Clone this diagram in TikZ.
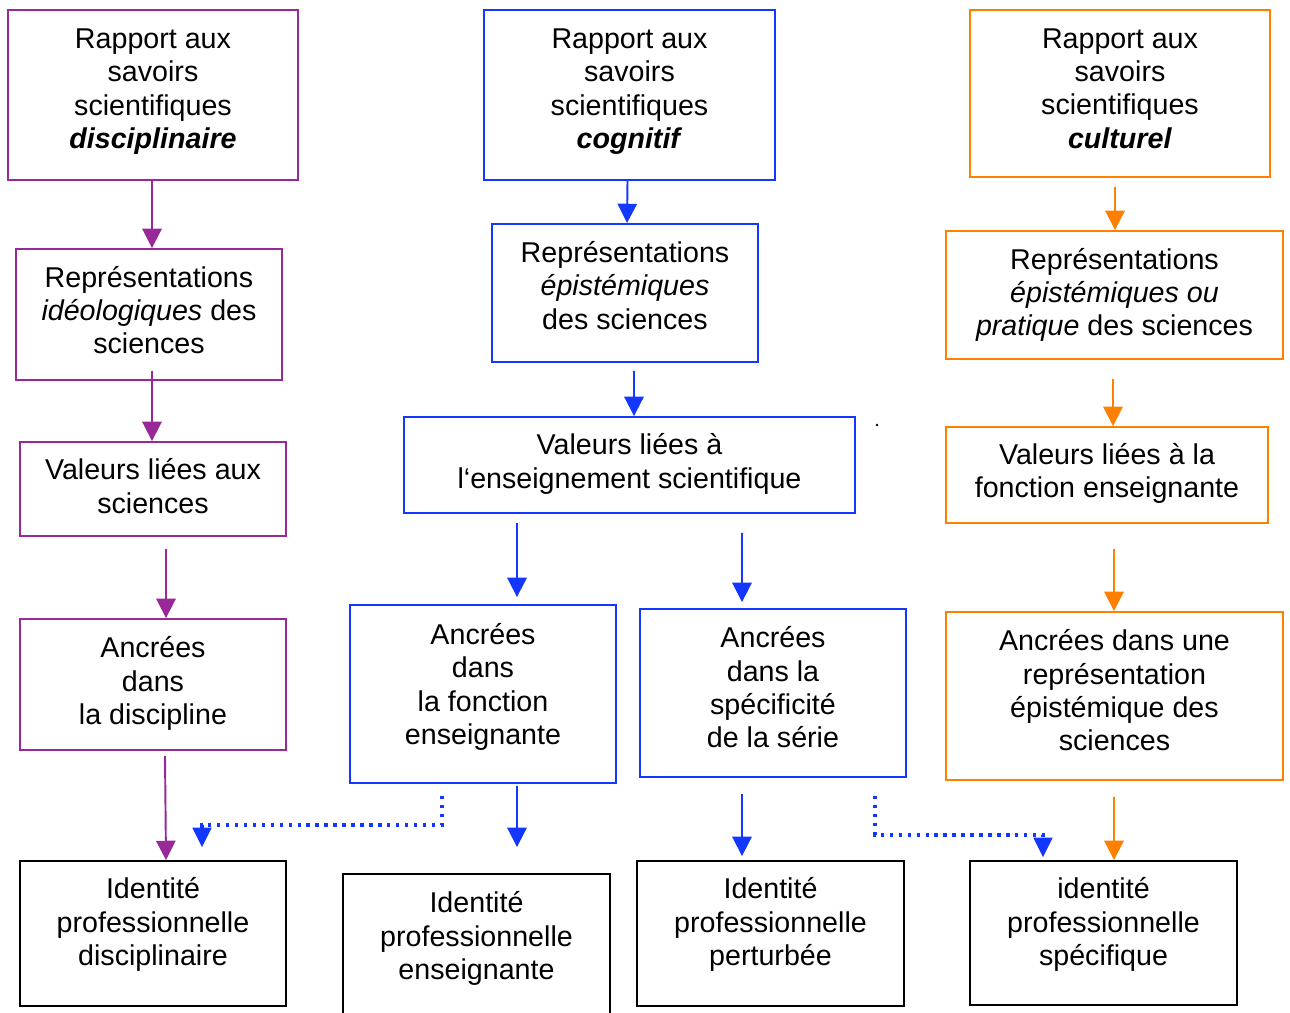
\documentclass[tikz,border=0pt]{standalone}
\usepackage{fontspec}
\setmainfont{Liberation Sans}
\usetikzlibrary{arrows.meta,calc}
\definecolor{cpurple}{RGB}{153,40,153}
\definecolor{cblue}{RGB}{20,55,255}
\definecolor{corange}{RGB}{255,128,0}
\tikzset{
  box/.style={draw, line width=1.1pt, inner sep=0pt},
  pbox/.style={box, draw=cpurple},
  bbox/.style={box, draw=cblue},
  obox/.style={box, draw=corange},
  kbox/.style={box, draw=black},
  txt/.style={align=center, inner sep=0pt, yshift=-0.07cm, font=\fontsize{16.3}{19}\selectfont},
  arr/.style={line width=1.1pt, -{Triangle[width=11pt,length=11pt]}},
  parr/.style={arr, draw=cpurple, fill=cpurple},
  barr/.style={arr, draw=cblue, fill=cblue},
  oarr/.style={arr, draw=corange, fill=corange},
  bdot/.style={draw=cblue, line width=1.9pt, dash pattern=on 1.9pt off 3.2pt,
    -{Triangle[width=11pt,length=11pt,fill=cblue,line width=0pt,sep=0pt]}},
}
\begin{document}
\begin{tikzpicture}[x=0.02cm,y=-0.02cm]
\useasboundingbox[fill=white] (0,0) rectangle (1290,1012);
% ---------- purple column ----------
\node[pbox, minimum width=5.8cm, minimum height=3.4cm] (b1) at (153,95) {};
\node[txt] (b1t) at (153,88) {Rapport aux\\savoirs\\scientifiques\\\textbf{\textit{disciplinaire}}};
\node[pbox, minimum width=5.32cm, minimum height=2.62cm] (b2) at (149,314.5) {};
\node[txt] (b2t) at (149,306.5) {Représentations\\\textit{idéologiques} des\\sciences};
\node[pbox, minimum width=5.32cm, minimum height=1.88cm] (b3) at (153,489) {};
\node[txt] (b3t) at (153,482.5) {Valeurs liées aux\\sciences};
\node[pbox, minimum width=5.32cm, minimum height=2.62cm] (b4) at (153,684.5) {};
\node[txt] (b4t) at (153,680) {Ancrées\\dans\\la discipline};
\node[kbox, minimum width=5.32cm, minimum height=2.9cm] (b5) at (153,933.5) {};
\node[txt] (b5t) at (153,921) {Identité\\professionnelle\\disciplinaire};
% ---------- blue column ----------
\node[bbox, minimum width=5.82cm, minimum height=3.4cm] (c1) at (629.5,95) {};
\node[txt] (c1t) at (629.5,88) {Rapport aux\\savoirs\\scientifiques\\\textbf{\textit{cognitif}}};
\node[bbox, minimum width=5.32cm, minimum height=2.76cm] (c2) at (625,293) {};
\node[txt] (c2t) at (625,282) {Représentations\\\textit{épistémiques}\\des sciences};
\node[bbox, minimum width=9.02cm, minimum height=1.92cm] (c3) at (629.5,465) {};
\node[txt] (c3t) at (629.5,460.5) {Valeurs liées à\\l‘enseignement scientifique};
\node[bbox, minimum width=5.32cm, minimum height=3.56cm] (c4) at (483,694) {};
\node[txt] (c4t) at (483,683.5) {Ancrées\\dans\\la fonction\\enseignante};
\node[bbox, minimum width=5.32cm, minimum height=3.36cm] (c5) at (773,693) {};
\node[txt] (c5t) at (773,684) {Ancrées\\dans la\\spécificité\\de la série};
\node[kbox, minimum width=5.34cm, minimum height=2.92cm] (c6) at (476.5,947) {};
\node[txt] (c6t) at (476.5,935) {Identité\\professionnelle\\enseignante};
\node[kbox, minimum width=5.34cm, minimum height=2.9cm] (c7) at (770.5,933.5) {};
\node[txt] (c7t) at (770.5,921) {Identité\\professionnelle\\perturbée};
% ---------- orange column ----------
\node[obox, minimum width=6cm, minimum height=3.34cm] (d1) at (1120,93.5) {};
\node[txt] (d1t) at (1120,85) {Rapport aux\\savoirs\\scientifiques\\\textbf{\textit{culturel}}};
\node[obox, minimum width=6.74cm, minimum height=2.56cm] (d2) at (1114.5,295) {};
\node[txt] (d2t) at (1114.5,291.5) {Représentations\\\textit{épistémiques ou}\\\textit{pratique} des sciences};
\node[obox, minimum width=6.44cm, minimum height=1.92cm] (d3) at (1107,475) {};
\node[txt] (d3t) at (1107,470) {Valeurs liées à la\\fonction enseignante};
\node[obox, minimum width=6.74cm, minimum height=3.36cm] (d4) at (1114.5,696) {};
\node[txt] (d4t) at (1114.5,687) {Ancrées dans une\\représentation\\épistémique des\\sciences};
\node[kbox, minimum width=5.34cm, minimum height=2.88cm] (d5) at (1103.5,933) {};
\node[txt] (d5t) at (1103.5,921) {identité\\professionnelle\\spécifique};
% ---------- purple arrows ----------
\draw[parr] ($(b1.south)+(-1,0)$) -- ($(b2.north)+(3,0)$);
\draw[parr] ($(b2.south)+(3,-10)$) -- ($(b3.north)+(-1,0)$);
\draw[parr] ($(b3.south)+(13,12)$) -- ($(b4.north)+(13,0)$);
\draw[parr] ($(b4.south)+(12,5)$) -- ($(b5.north)+(13,0)$);
% ---------- blue arrows ----------
\draw[barr] ($(c1.south)+(-2,0)$) -- ($(c2.north)+(2,0)$);
\draw[barr] ($(c2.south)+(9,8)$) -- ($(c3.north)+(4.5,0)$);
\draw[barr] ($(c3.south)+(-112.5,9)$) -- ($(c4.north)+(34,-7)$);
\draw[barr] ($(c3.south)+(112.5,19)$) -- ($(c5.north)+(-31,-6)$);
\draw[barr] ($(c4.south)+(34,2)$) -- ($(c6.north)+(40.5,-26)$);
\draw[barr] ($(c5.south)+(-31,16)$) -- ($(c7.north)+(-28.5,-4)$);
\draw[bdot] ($(c4.south)+(-41,12)$) |- ($(b5.north)+(49,-35)$) -- ($(b5.north)+(49,-13)$);
\draw[bdot] ($(c5.south)+(102,18)$) |- ($(d5.north)+(-60.5,-25)$) -- ($(d5.north)+(-60.5,-3)$);
% ---------- orange arrows ----------
\draw[oarr] ($(d1.south)+(-5,9)$) -- ($(d2.north)+(0.5,0)$);
\draw[oarr] ($(d2.south)+(-1.5,19)$) -- ($(d3.north)+(6,0)$);
\draw[oarr] ($(d3.south)+(7,25)$) -- ($(d4.north)+(-0.5,0)$);
\draw[oarr] ($(d4.south)+(-0.5,16)$) -- ($(d5.north)+(10.5,0)$);
% stray dot
\fill (877,425) circle (1.3);
\end{tikzpicture}
\end{document}
